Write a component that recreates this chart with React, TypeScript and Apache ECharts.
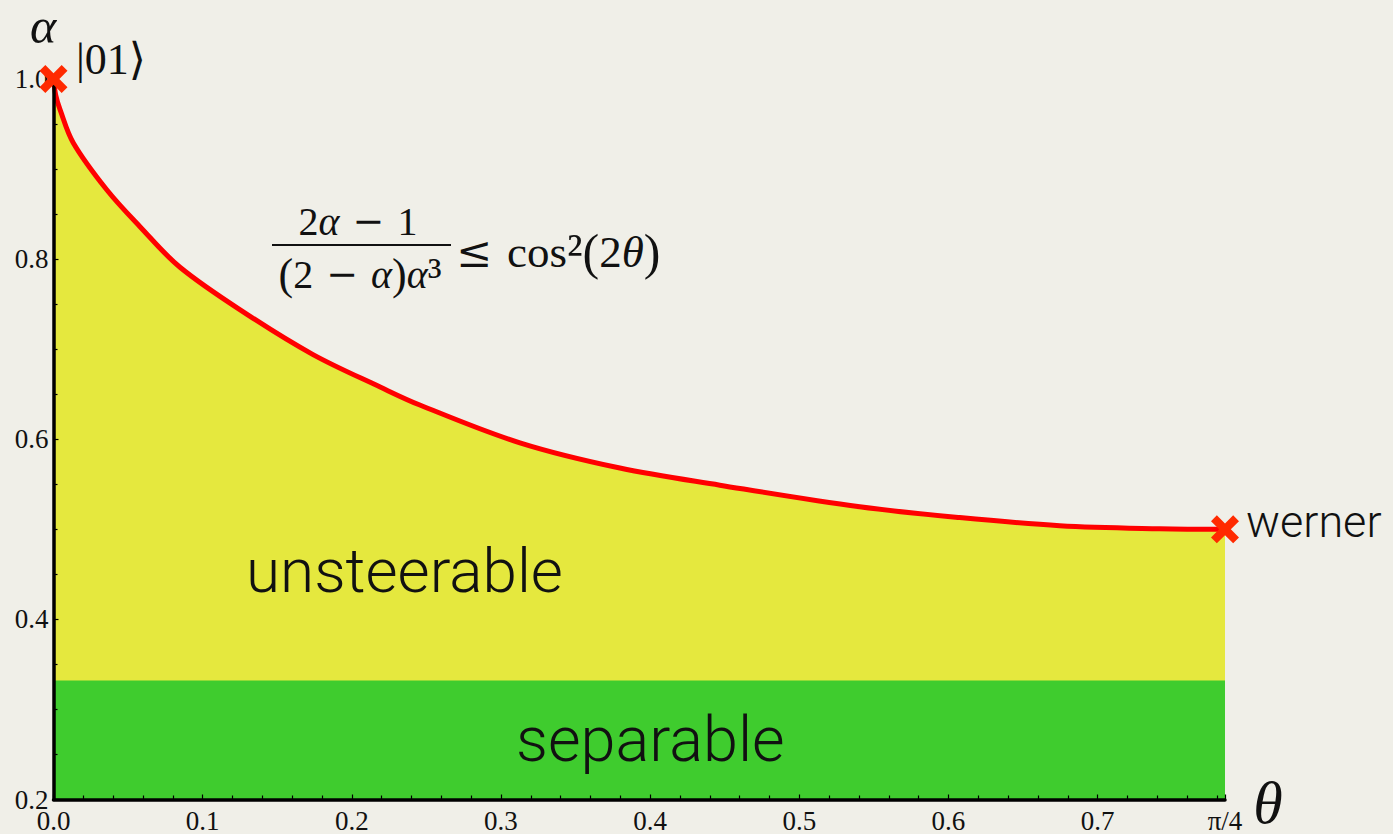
import React, { useEffect, useRef } from "react";
import * as echarts from "echarts";

// Boundary of the steering region, alpha as a function of theta
const THETA_MAX = Math.PI / 4;
const boundaryTheta = [0, 0.0015, 0.0044, 0.0133, 0.0357, 0.058, 0.0848, 0.1295, 0.174, 0.219, 0.2456, 0.3127, 0.3797, 0.4467, 0.5405, 0.6075, 0.6746, 0.7416, THETA_MAX];
const boundaryAlpha = [1.0, 0.982, 0.966, 0.929, 0.877, 0.836, 0.791, 0.739, 0.694, 0.658, 0.638, 0.596, 0.568, 0.549, 0.525, 0.513, 0.504, 0.5006, 0.5];

// Separable states lie below this alpha for every theta
const separableTheta = [0, THETA_MAX];
const separableAlpha = [0.332, 0.332];

// Special states marked on the boundary
const markerTheta = [0, THETA_MAX];
const markerAlpha = [1.0, 0.5];

const yTicks = [0.2, 0.4, 0.6, 0.8, 1.0];

const BG = "#f0efe8";
const YELLOW = "#e5e83e";
const GREEN = "#3fcc2e";
const RED = "#ff0000";
const MARK = "#ff2a00";
const SERIF = "'Liberation Serif', 'DejaVu Serif', serif";
const OPS = "'DejaVu Serif', serif";
const SANS = "Roboto, 'Open Sans', sans-serif";

const X_SYMBOL =
  "path://M0,5 L5,0 L12,7 L19,0 L24,5 L17,12 L24,19 L19,24 L12,17 L5,24 L0,19 L7,12 Z";

// Rich-text fragment styles for the inequality, scaled by font size
function mathStyles(s: number) {
  return {
    n: { font: `${Math.round(40 * s)}px ${SERIF}`, fill: "#111" },
    i: { font: `italic ${Math.round(40 * s)}px ${SERIF}`, fill: "#111" },
    o: { font: `${Math.round(38 * s)}px ${OPS}`, fill: "#111" },
    p: { font: `${Math.round(44 * s)}px ${SERIF}`, fill: "#111" },
    u: { font: `${Math.round(46 * s)}px ${SERIF}`, fill: "#111" },
    g: { font: `${Math.round(40 * s)}px ${SERIF}`, width: Math.round(13 * s) },
  };
}

export default function App() {
  const ref = useRef<HTMLDivElement>(null);

  useEffect(() => {
    if (!ref.current) return;
    const chart = echarts.init(ref.current, undefined, { renderer: "svg" });

    const curve = boundaryTheta.map((t, i) => [t, boundaryAlpha[i]]);
    const sep = separableTheta.map((t, i) => [t, separableAlpha[i]]);
    const marks = markerTheta.map((t, i) => [t, markerAlpha[i]]);

    const fracRich = mathStyles(1);
    const rhsRich = mathStyles(1.13);

    chart.setOption({
      animation: false,
      backgroundColor: BG,
      grid: { left: 53.5, right: 168, top: 79, bottom: 31, containLabel: false },
      xAxis: {
        type: "value",
        min: 0,
        max: THETA_MAX,
        interval: 0.1,
        z: 10,
        splitLine: { show: false },
        axisLine: { lineStyle: { color: "#000", width: 3.5 } },
        axisTick: { inside: true, length: 5, lineStyle: { color: "#000", width: 1.2 } },
        minorTick: { show: true, splitNumber: 5, length: 4, lineStyle: { color: "#000", width: 1.2 } },
        axisLabel: {
          fontFamily: SERIF,
          fontSize: 27,
          lineHeight: 18,
          color: "#111",
          margin: 12,
          showMaxLabel: true,
          formatter: (v: number) => (Math.abs(v - THETA_MAX) < 1e-6 ? "π/4" : v.toFixed(1)),
        },
      },
      yAxis: {
        type: "value",
        min: yTicks[0],
        max: yTicks[yTicks.length - 1],
        interval: 0.2,
        z: 10,
        splitLine: { show: false },
        axisLine: { lineStyle: { color: "#000", width: 3.5 } },
        axisTick: { inside: true, length: 5, lineStyle: { color: "#000", width: 1.2 } },
        minorTick: { show: true, splitNumber: 4, length: 4, lineStyle: { color: "#000", width: 1.2 } },
        axisLabel: {
          fontFamily: SERIF,
          fontSize: 27,
          lineHeight: 18,
          padding: [0, 0, 10, 0],
          color: "#111",
          margin: 5,
          formatter: (v: number) => v.toFixed(1),
        },
      },
      series: [
        {
          type: "line",
          data: curve,
          smooth: 0.35,
          showSymbol: false,
          lineStyle: { color: RED, width: 5 },
          areaStyle: { color: YELLOW, opacity: 1, origin: "start" },
          z: 2,
        },
        {
          type: "line",
          data: sep,
          showSymbol: false,
          lineStyle: { width: 0 },
          areaStyle: { color: GREEN, opacity: 1, origin: "start" },
          z: 3,
        },
        {
          type: "scatter",
          data: marks,
          symbol: X_SYMBOL,
          symbolSize: 28,
          itemStyle: { color: MARK, opacity: 1 },
          clip: false,
          z: 20,
        },
      ],
      graphic: [
        {
          type: "text",
          x: 43,
          y: 26,
          z: 30,
          style: { text: "α", font: `italic 50px ${SERIF}`, lineHeight: 36, fill: "#111", textAlign: "center", textVerticalAlign: "middle" },
        },
        {
          type: "text",
          x: 1268,
          y: 803,
          z: 30,
          style: { text: "θ", font: `italic 60px ${SERIF}`, lineHeight: 50, fill: "#111", textAlign: "center", textVerticalAlign: "middle" },
        },
        {
          type: "text",
          x: 76,
          y: 59,
          z: 30,
          style: { text: "|01⟩", font: `44px ${SERIF}`, fill: "#111", textAlign: "left", textVerticalAlign: "middle" },
        },
        {
          type: "text",
          x: 1246,
          y: 521,
          z: 30,
          style: { text: "werner", font: `300 45px ${SANS}`, fill: "#111", textAlign: "left", textVerticalAlign: "middle" },
        },
        {
          type: "text",
          x: 246,
          y: 570,
          z: 30,
          style: { text: "unsteerable", font: `300 62px ${SANS}`, fill: "#111", textAlign: "left", textVerticalAlign: "middle" },
        },
        {
          type: "text",
          x: 516,
          y: 739,
          z: 30,
          style: { text: "separable", font: `300 63px ${SANS}`, fill: "#111", textAlign: "left", textVerticalAlign: "middle" },
        },
        // Boundary condition written as a fraction
        {
          type: "text",
          x: 358,
          y: 221,
          z: 30,
          style: { text: "{n|2}{i|α}{g| }{o|−}{g| }{n|1}", rich: fracRich, textAlign: "center", textVerticalAlign: "middle" },
        },
        {
          type: "line",
          z: 30,
          shape: { x1: 272, y1: 245, x2: 451, y2: 245 },
          style: { stroke: "#111", lineWidth: 2 },
        },
        {
          type: "text",
          x: 360,
          y: 274,
          z: 30,
          style: { text: "{p|(}{n|2}{g| }{o|−}{g| }{i|α}{p|)}{i|α}{u|³}", rich: fracRich, textAlign: "center", textVerticalAlign: "middle" },
        },
        {
          type: "text",
          x: 456,
          y: 252,
          z: 30,
          style: { text: "{o|≤}{g| }{n|cos}{u|²}{p|(}{n|2}{i|θ}{p|)}", rich: rhsRich, textAlign: "left", textVerticalAlign: "middle" },
        },
      ],
    });

    return () => chart.dispose();
  }, []);

  return (
    <div
      ref={ref}
      style={{ position: "fixed", left: 0, top: 0, width: 1393, height: 834, background: BG }}
    />
  );
}
